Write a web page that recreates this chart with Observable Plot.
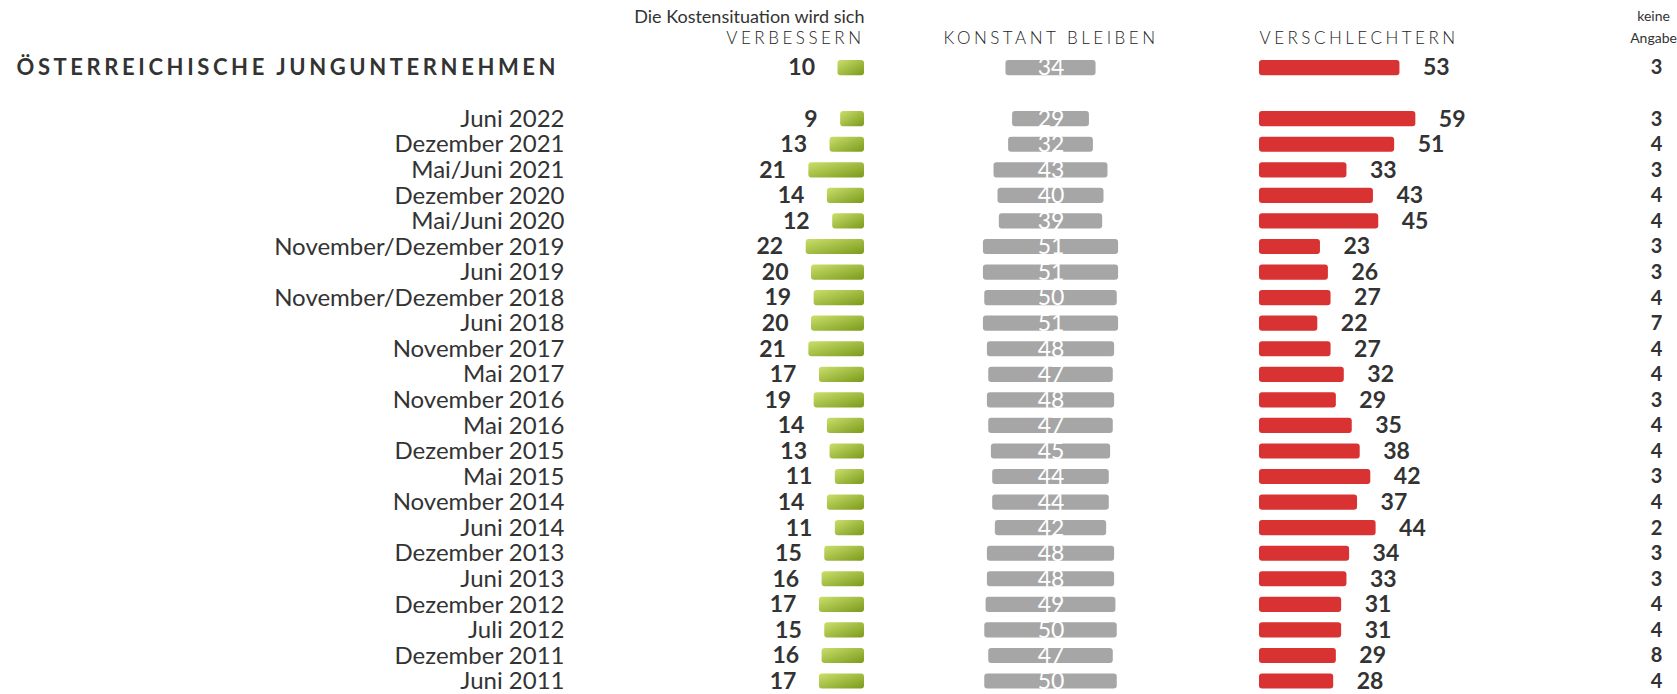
<!DOCTYPE html>
<html><head><meta charset="utf-8">
<script src="https://cdn.jsdelivr.net/npm/d3@7"></script>
<script src="https://cdn.jsdelivr.net/npm/@observablehq/plot@0.6"></script>
<style>
body{margin:0;background:#fff;}
#chart svg{display:block;font-family:Lato,"Open Sans",sans-serif;background:#fff;}
</style></head><body><div id="chart"></div>
<script>
// ---- data ----
const overallLabel = "ÖSTERREICHISCHE JUNGUNTERNEHMEN";
const overallValues = [10, 34, 53, 3]; // verbessern, konstant, verschlechtern, keine Angabe
const periods = ["Juni 2022","Dezember 2021","Mai/Juni 2021","Dezember 2020","Mai/Juni 2020","November/Dezember 2019","Juni 2019","November/Dezember 2018","Juni 2018","November 2017","Mai 2017","November 2016","Mai 2016","Dezember 2015","Mai 2015","November 2014","Juni 2014","Dezember 2013","Juni 2013","Dezember 2012","Juli 2012","Dezember 2011","Juni 2011"];
const better = [9,13,21,14,12,22,20,19,20,21,17,19,14,13,11,14,11,15,16,17,15,16,17];
const same   = [29,32,43,40,39,51,51,50,51,48,47,48,47,45,44,44,42,48,48,49,50,47,50];
const worse  = [59,51,33,43,45,23,26,27,22,27,32,29,35,38,42,37,44,34,33,31,31,29,28];
const noAnswer = [3,4,3,4,4,3,3,4,7,4,4,3,4,4,3,4,2,3,3,4,4,8,4];
const headerBetter = ["Die Kostensituation wird sich", "VERBESSERN"];
const headerSame = "KONSTANT BLEIBEN";
const headerWorse = "VERSCHLECHTERN";
const headerNone = ["keine", "Angabe"];

// ---- table ----
const rows = [{label: overallLabel, better: overallValues[0], same: overallValues[1], worse: overallValues[2], none: overallValues[3]}]
  .concat(periods.map((p, i) => ({label: p, better: better[i], same: same[i], worse: worse[i], none: noAnswer[i]})));
const periodRows = rows.slice(1);
const yDomain = [overallLabel, " ", ...periods];

// layout anchors in percentage units (x scale: 2.65 px per percentage point)
const W = 1677, H = 694, PX = 2.65;
const GREEN_END = 864 / PX, GRAY_MID = 1050.5 / PX, RED_START = 1259 / PX;
const LABEL_END = 564 / PX, TITLE_X = 16 / PX, NONE_X = 1656 / PX, NONE_HEAD_X = 1653 / PX;
const TXT = "#333333";

const defs = () => {
  const d = d3.create("svg:defs");
  const g = d.append("linearGradient").attr("id", "greenGrad")
    .attr("x1", "0").attr("y1", "0").attr("x2", "1").attr("y2", "1");
  g.append("stop").attr("offset", "0%").attr("stop-color", "#cadf6c");
  g.append("stop").attr("offset", "100%").attr("stop-color", "#7b9a1b");
  return d.node();
};

const bar = {y: "label", rx: 3, insetTop: 5.2, insetBottom: 5.2};
const head = {frameAnchor: "top", lineAnchor: "middle", text: d => d, fill: TXT};
const TOP = 54.8;

const chart = Plot.plot({
  width: W, height: H,
  marginTop: TOP, marginBottom: 0, marginLeft: 0, marginRight: 0,
  x: {domain: [0, W / PX], range: [0, W], axis: null},
  y: {type: "band", domain: yDomain, range: [TOP, 693.8], padding: 0, round: false, axis: null},
  style: {fontFamily: "Lato, 'Open Sans', sans-serif", background: "#fff"},
  marks: [
    defs,
    // bars
    Plot.barX(rows, {...bar, x1: d => GREEN_END - d.better, x2: () => GREEN_END, fill: "url(#greenGrad)"}),
    Plot.barX(rows, {...bar, x1: d => GRAY_MID - d.same / 2, x2: d => GRAY_MID + d.same / 2, fill: "#a6a6a6"}),
    Plot.barX(rows, {...bar, x1: () => RED_START, x2: d => RED_START + d.worse, fill: "#d93232"}),
    // row labels
    Plot.text(periodRows, {x: () => LABEL_END, y: "label", text: "label", textAnchor: "end", fontSize: 24, fill: TXT}),
    Plot.text([overallLabel], {x: () => TITLE_X, y: d => d, text: d => d, textAnchor: "start", fontSize: 22, fontWeight: "bold", fill: TXT}),
    // values
    Plot.text(rows, {x: d => GREEN_END - d.better, y: "label", text: "better", dx: -23, textAnchor: "end", fontSize: 23, fontWeight: "bold", fill: TXT}),
    Plot.text(rows, {x: () => GRAY_MID, y: "label", text: "same", textAnchor: "middle", fontSize: 23, fill: "#ffffff"}),
    Plot.text(rows, {x: d => RED_START + d.worse, y: "label", text: "worse", dx: 23, textAnchor: "start", fontSize: 23, fontWeight: "bold", fill: TXT}),
    Plot.text(rows, {x: () => NONE_X, y: "label", text: "none", textAnchor: "middle", fontSize: 20, fontWeight: "bold", fill: TXT}),
    // column headers
    Plot.text([headerBetter[0]], {...head, x: () => GREEN_END, dy: -38.5, textAnchor: "end", fontSize: 18}),
    Plot.text([headerBetter[1]], {...head, x: () => GREEN_END, dy: -16.5, textAnchor: "end", fontSize: 17}),
    Plot.text([headerSame], {...head, x: () => GRAY_MID, dy: -16.5, textAnchor: "middle", fontSize: 17}),
    Plot.text([headerWorse], {...head, x: () => RED_START, dy: -16.5, textAnchor: "start", fontSize: 17}),
    Plot.text([headerNone[0]], {...head, x: () => NONE_HEAD_X, dy: -38.5, textAnchor: "middle", fontSize: 14}),
    Plot.text([headerNone[1]], {...head, x: () => NONE_HEAD_X, dy: -16.5, textAnchor: "middle", fontSize: 14})
  ]
});
const texts = d3.select(chart).selectAll("text");
texts.filter(function() { return this.textContent === overallLabel; }).attr("letter-spacing", "3.6px");
texts.filter(function() { return [headerBetter[1], headerSame, headerWorse].includes(this.textContent); })
  .attr("letter-spacing", "3.5px").attr("font-weight", 300).attr("fill", "#222");
document.getElementById("chart").appendChild(chart);
</script>
</body></html>
